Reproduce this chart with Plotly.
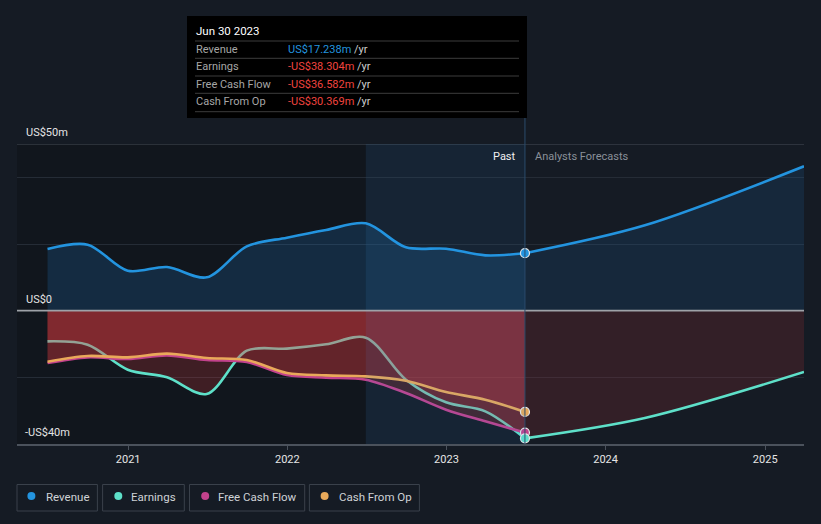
import plotly.graph_objects as go

# ---------------- data (US$ m) ----------------
past_dates = ["2020-06-30", "2020-09-30", "2020-12-31", "2021-03-31", "2021-06-30",
              "2021-09-30", "2021-12-31", "2022-03-31", "2022-06-30", "2022-09-30",
              "2022-12-31", "2023-03-31", "2023-06-30"]
revenue_past = [18.5, 19.8, 12.0, 13.1, 10.0, 19.3, 21.9, 24.2, 26.2, 19.0, 18.6, 16.6, 17.238]
earnings_past = [-9.2, -10.2, -17.7, -20.0, -25.0, -12.0, -11.4, -10.1, -8.1, -20.7, -27.5, -30.2, -38.304]
fcf_past = [-15.7, -14.0, -14.5, -13.4, -14.8, -15.4, -19.3, -20.1, -20.7, -24.7, -29.7, -33.2, -36.582]
cfo_past = [-15.3, -13.6, -14.0, -12.9, -14.2, -14.8, -18.7, -19.4, -19.7, -21.0, -24.4, -26.7, -30.369]

fc_dates = ["2023-06-30", "2024-03-31", "2025-03-31"]
revenue_fc = [17.238, 25.6, 43.3]
earnings_fc = [-38.304, -32.2, -18.4]

x_range = ["2020-04-21", "2025-03-31"]
y_range = [-40, 50]
year_ticks = ["2021-01-01", "2022-01-01", "2023-01-01", "2024-01-01", "2025-01-01"]
year_labels = ["2021", "2022", "2023", "2024", "2025"]

tooltip_date = "Jun 30 2023"
tooltip_rows = [("Revenue", "US$17.238m"), ("Earnings", "-US$38.304m"),
                ("Free Cash Flow", "-US$36.582m"), ("Cash From Op", "-US$30.369m")]
legend_names = ["Revenue", "Earnings", "Free Cash Flow", "Cash From Op"]

# ---------------- styles ----------------
BG = "#151b24"
BLUE = "#2394df"
TEAL = "#5ee0c9"
MAGENTA = "#c2428c"
ORANGE = "#e9a95a"
RED_FILL = "rgba(235,60,65,0.21)"
FONT = "Roboto"

W, H = 821, 524
PL, PR, PT, PB = 17, 804, 144, 444


def px(x):
    return (x - PL) / (PR - PL)


def py(y):
    return (PB - y) / (PB - PT)


def line_trace(x, y, color, fill=None, fillcolor=None):
    return go.Scatter(x=x, y=y, mode="lines",
                      line=dict(color=color, width=2.6, shape="spline", smoothing=0.9),
                      fill=fill, fillcolor=fillcolor, hoverinfo="skip", showlegend=False)


fig = go.Figure()
fig.add_trace(line_trace(past_dates, revenue_past, BLUE, "tozeroy", "rgba(33,150,243,0.17)"))
fig.add_trace(line_trace(fc_dates, revenue_fc, BLUE, "tozeroy", "rgba(33,150,243,0.11)"))
fig.add_trace(line_trace(past_dates, earnings_past, TEAL, "tozeroy", RED_FILL))
fig.add_trace(line_trace(fc_dates, earnings_fc, TEAL, "tozeroy", "rgba(235,60,65,0.14)"))
fig.add_trace(line_trace(past_dates, fcf_past, MAGENTA, "tozeroy", RED_FILL))
fig.add_trace(line_trace(past_dates, cfo_past, ORANGE, "tozeroy", RED_FILL))

# end-point markers
for series, color in [(revenue_past, BLUE), (cfo_past, ORANGE), (fcf_past, MAGENTA), (earnings_past, TEAL)]:
    fig.add_trace(go.Scatter(x=[past_dates[-1]], y=[series[-1]], mode="markers",
                             marker=dict(size=9, color=color, line=dict(color="#e8e8e8", width=1.2)),
                             hoverinfo="skip", showlegend=False))

shapes = [
    # older past darker
    dict(type="rect", xref="x", yref="paper", x0=x_range[0], x1="2022-06-30", y0=0, y1=1,
         fillcolor="rgba(0,0,0,0.17)", line=dict(width=0), layer="below"),
    # last year highlight
    dict(type="rect", xref="x", yref="paper", x0="2022-06-30", x1="2023-06-30", y0=0, y1=1,
         fillcolor="rgba(33,150,243,0.08)", line=dict(width=0), layer="above"),
    # top line at 50
    dict(type="line", xref="paper", yref="y", x0=0, x1=1, y0=50, y1=50,
         line=dict(color="#474d57", width=1), layer="below"),
    # zero line
    dict(type="line", xref="paper", yref="y", x0=0, x1=1, y0=0, y1=0,
         line=dict(color="#9ea2a8", width=1.6), layer="above"),
    # hover line
    dict(type="line", xref="x", yref="paper", x0="2023-06-30", x1="2023-06-30", y0=0, y1=py(118),
         line=dict(color="#2b4b6b", width=1), layer="above"),
    # tooltip box
    dict(type="rect", xref="paper", yref="paper", x0=px(187), x1=px(527), y0=py(118), y1=py(16),
         fillcolor="#000000", line=dict(width=0), layer="above"),
]
for yy in [41, 58.3, 76, 93.3, 111.7]:
    shapes.append(dict(type="line", xref="paper", yref="paper", x0=px(195), x1=px(519),
                       y0=py(yy), y1=py(yy), line=dict(color="#3c3c3c", width=1), layer="above"))

annotations = []


def ann(text, x, y, color, size=11, anchor="left"):
    annotations.append(dict(text=text, xref="paper", yref="paper", x=px(x), y=py(y),
                            xanchor=anchor, yanchor="middle", showarrow=False,
                            font=dict(family=FONT, size=size, color=color)))


# y labels
ann("US$50m", 24, 132, "#e4e4e4")
ann("US$0", 24, 299, "#e4e4e4")
ann("-US$40m", 23, 432.5, "#e4e4e4")
# Past / Forecast
ann("Past", 518, 156, "#f0f0f0", anchor="right")
ann("Analysts Forecasts", 533, 156, "#8a9099")
# tooltip
ann(tooltip_date, 194, 31, "#ffffff", size=11.5)
row_y = [49.3, 66.7, 84.5, 101.3]
for (label, value), yy in zip(tooltip_rows, row_y):
    ann(label, 194, yy, "#a6a6a6")
    vcol = BLUE if not value.startswith("-") else "#f0443f"
    ann(f"<span style='color:{vcol}'>{value}</span><span style='color:#cfcfcf'> /yr</span>",
        286, yy, vcol)

# custom legend
legend_boxes = [(17, 97.4), (102.6, 184.3), (189.5, 304.7), (309.4, 419.4)]
legend_dots = [31.4, 118.3, 205.2, 324.6]
legend_text_x = [43.5, 129, 216, 336.5]
legend_colors = [BLUE, TEAL, MAGENTA, ORANGE]
for (x0, x1), dx, tx, name, col in zip(legend_boxes, legend_dots, legend_text_x, legend_names, legend_colors):
    shapes.append(dict(type="rect", xref="paper", yref="paper", x0=px(x0), x1=px(x1),
                       y0=py(511), y1=py(484.5), line=dict(color="#3a414b", width=1),
                       fillcolor="rgba(0,0,0,0)", layer="above"))
    shapes.append(dict(type="circle", xref="paper", yref="paper", x0=px(dx - 4), x1=px(dx + 4),
                       y0=py(500), y1=py(492), line=dict(width=0), fillcolor=col, layer="above"))
    ann(name, tx, 496.5, "#cfd2d6", size=11.5)

fig.update_layout(
    width=W, height=H,
    margin=dict(l=PL, r=W - PR, t=PT, b=H - PB),
    paper_bgcolor=BG, plot_bgcolor=BG,
    showlegend=False,
    shapes=shapes, annotations=annotations,
    font=dict(family=FONT, color="#e4e4e4"),
    xaxis=dict(type="date", range=x_range, tickvals=year_ticks, ticktext=year_labels,
               showgrid=False, zeroline=False, showline=True, linecolor="#4b525c", linewidth=1.5,
               ticks="outside", ticklen=4, tickcolor="#4b525c",
               tickfont=dict(family=FONT, size=11, color="#e6e6e6"), fixedrange=True),
    yaxis=dict(range=y_range, tick0=0, dtick=20, showgrid=True, gridcolor="#252c36", gridwidth=1,
               zeroline=False, showticklabels=False, fixedrange=True),
)

fig.write_html(
    "out.html",
    config={"displayModeBar": False},
    post_script="document.body.style.margin='0';document.body.style.padding='0';"
                "document.body.style.overflow='hidden';document.body.style.background='" + BG + "';",
)
